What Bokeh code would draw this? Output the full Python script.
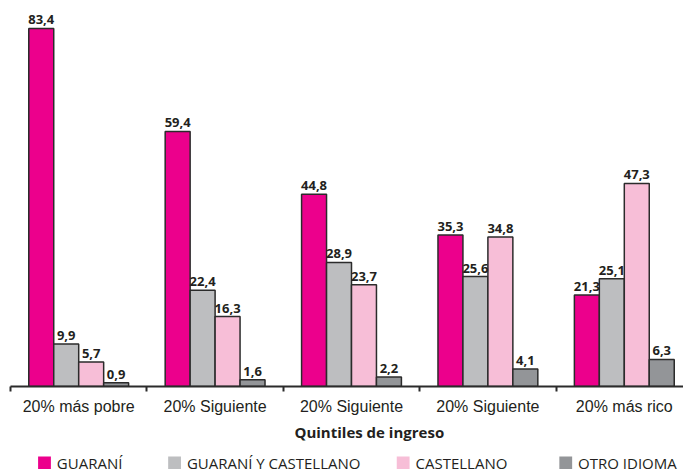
from bokeh.plotting import figure
from bokeh.layouts import column
from bokeh.core.properties import value
from bokeh.models import (ColumnDataSource, Range1d, FixedTicker, LabelSet, Title)
from bokeh.embed import file_html
from bokeh.resources import INLINE

categories = ["20% más pobre", "20% Siguiente", "20% Siguiente", "20% Siguiente", "20% más rico"]
series_names = ["GUARANÍ", "GUARANÍ Y CASTELLANO", "CASTELLANO", "OTRO IDIOMA"]
guarani = [83.4, 59.4, 44.8, 35.3, 21.3]
guarani_castellano = [9.9, 22.4, 28.9, 25.6, 25.1]
castellano = [5.7, 16.3, 23.7, 34.8, 47.3]
otro_idioma = [0.9, 1.6, 2.2, 4.1, 6.3]
axis_title = "Quintiles de ingreso"

series_values = [guarani, guarani_castellano, castellano, otro_idioma]
colors = ["#EC008C", "#BDBEC0", "#F7BED7", "#939598"]
outline = "#2B2B2B"
text_col = "#231F20"
bar_w = 0.183
legend_px = [28, 160, 392, 557]   # legend key positions (pixels)

p = figure(width=683, height=444, output_backend="svg", toolbar_location=None,
           x_range=Range1d(0, 4.934), y_range=Range1d(0, 89.9),
           min_border_left=10, min_border_right=0, min_border_top=0,
           min_border_bottom=56, y_axis_location=None)
p.outline_line_color = None
p.xgrid.grid_line_color = None
p.ygrid.grid_line_color = None

centers = [i + 0.5 for i in range(len(categories))]
n = len(series_values)
for j, (vals, col) in enumerate(zip(series_values, colors)):
    xs = [c + (j - (n - 1) / 2) * bar_w for c in centers]
    src = ColumnDataSource(dict(x=xs, top=vals,
                                lab=[f"{v:.1f}".replace(".", ",") for v in vals]))
    p.vbar(x="x", top="top", width=bar_w, source=src, fill_color=col,
           line_color=outline, line_width=1.5)
    p.add_layout(LabelSet(x="x", y="top", text="lab", source=src, y_offset=4,
                          text_align="center", text_baseline="bottom",
                          text_font=value("Open Sans"), text_font_style="bold",
                          text_font_size="13px", text_color=text_col))

ax = p.xaxis[0]
ax.ticker = FixedTicker(ticks=centers, minor_ticks=list(range(len(categories) + 1)))
ax.major_label_overrides = {c: lab for c, lab in zip(centers, categories)}
ax.axis_line_color = outline
ax.axis_line_width = 2
ax.major_tick_line_color = None
ax.major_tick_out = 0
ax.major_tick_in = 0
ax.minor_tick_line_color = outline
ax.minor_tick_line_width = 2
ax.minor_tick_out = 5
ax.minor_tick_in = 0
ax.major_label_standoff = 6
ax.major_label_text_font = "Liberation Sans"
ax.major_label_text_font_size = "16px"
ax.major_label_text_color = text_col

t = Title(text=axis_title, align="left", offset=284, text_font="Open Sans",
          text_font_style="bold", text_font_size="15px", text_color=text_col,
          standoff=5)
p.add_layout(t, "below")

# legend strip (pixel-unit figure)
pl = figure(width=683, height=28, output_backend="svg", toolbar_location=None,
            x_range=Range1d(0, 683), y_range=Range1d(0, 28),
            min_border_left=0, min_border_right=0, min_border_top=0,
            min_border_bottom=0, x_axis_location=None, y_axis_location=None)
pl.outline_line_color = None
pl.xgrid.grid_line_color = None
pl.ygrid.grid_line_color = None
key_src = ColumnDataSource(dict(
    left=legend_px, right=[v + 13 for v in legend_px],
    tx=[v + 19 for v in legend_px], name=series_names, color=colors))
pl.quad(left="left", right="right", bottom=3.5, top=16, fill_color="color",
        line_color=None, source=key_src)
pl.text(x="tx", y=10, text="name", source=key_src, text_font=value("Open Sans"),
        text_font_size="15px", text_color=text_col, text_baseline="middle")

layout = column(p, pl, spacing=0)
open("out.html", "w").write(file_html(layout, INLINE))
